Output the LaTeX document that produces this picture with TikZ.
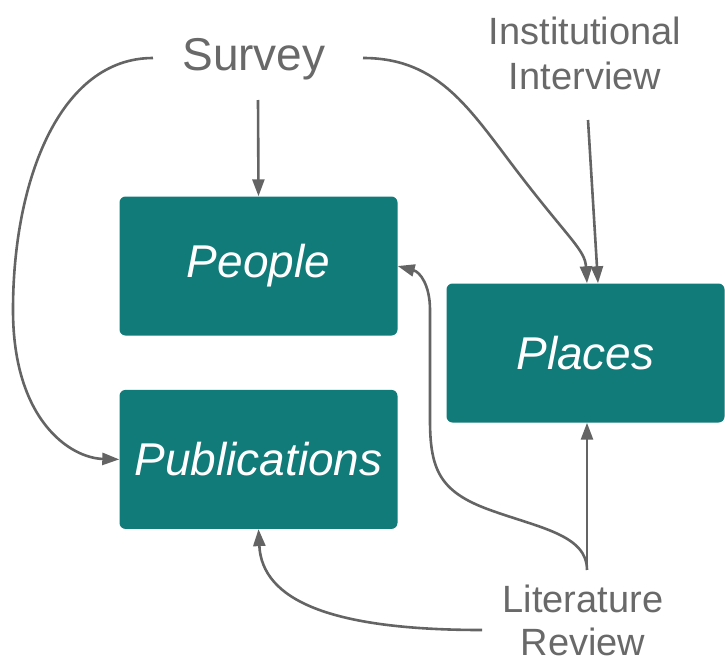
\documentclass[tikz,border=0pt]{standalone}
\usepackage{fontspec}
\setmainfont{Liberation Sans}
\usetikzlibrary{arrows.meta,positioning}
\definecolor{tealbox}{RGB}{17,123,121}
\definecolor{linegray}{RGB}{100,100,100}
\definecolor{textgray}{RGB}{105,105,105}
\tikzset{
  box/.style={rectangle, rounded corners=6pt, fill=tealbox, inner sep=0pt,
              minimum width=278pt, minimum height=139pt, text=white,
              font=\fontsize{46}{54}\selectfont\itshape},
  source/.style={text=textgray, align=center, inner sep=0pt,
                 font=\fontsize{38}{45}\selectfont},
  arrow/.style={-{Triangle[length=17pt,width=12pt]}, line width=2.6pt, linegray},
}

\begin{document}
\begin{tikzpicture}[x=1pt,y=-1pt]
\useasboundingbox (0,0) rectangle (725,664);
% the three boxes
\node[box] (people) at (258.5,266) {People};
\node[box, below=54pt of people] (pubs) {Publications};
\node[box] (places) at (585.5,353) {Places};
% data sources
\node[source, font=\fontsize{46}{54}\selectfont, anchor=base] (survey) at (254,70) {Survey};
\node[source, anchor=north] (interview) at (585,17) {Institutional\\Interview};
\node[source, anchor=north, font=\fontsize{38}{43}\selectfont] (review) at (583,585) {Literature\\Review};
% free ends of the connectors
\coordinate (sv-l) at (153,58);
\coordinate (sv-r) at (363,58);
\coordinate (sv-d) at (258,100);
\coordinate (iv-d) at (588,120);
\coordinate (lr-u) at (587,570);
\coordinate (lr-l) at (482,630);
% survey
\draw[arrow] (sv-d) -- (people.north);
\draw[arrow] (sv-l) .. controls (60,58) and (13,180) .. (13,310)
  .. controls (13,420) and (70,458) .. (pubs.west);
\draw[arrow] (sv-r) .. controls (440,58) and (470,110) .. (520,175)
  .. controls (570,240) and (585,250) .. ([xshift=1.5pt]places.north);
% interview
\draw[arrow] (iv-d) -- ([xshift=12.5pt]places.north);
% literature review
\draw[arrow] (lr-u) -- ([xshift=1.5pt]places.south);
\draw[arrow] (lr-u) .. controls (587,535) and (540,528) .. (490,510)
  .. controls (440,492) and (430,470) .. (430,420) -- (430,310)
  .. controls (430,285) and (420,272) .. (people.east);
\draw[arrow] (lr-l) .. controls (330,630) and (262,600) .. (pubs.south);
\end{tikzpicture}
\end{document}
